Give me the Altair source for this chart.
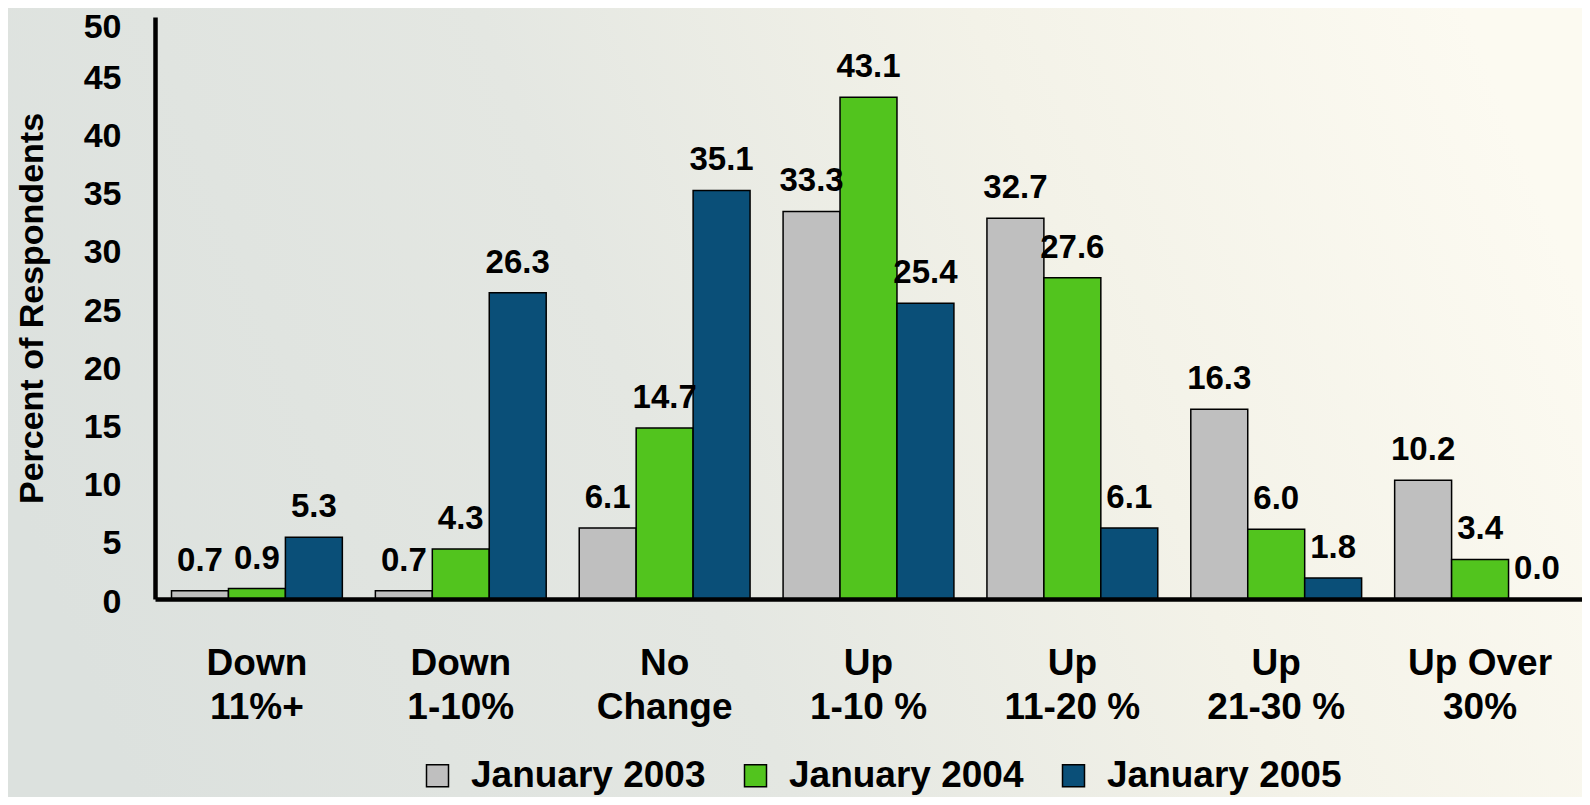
import altair as alt
import pandas as pd

categories = ["Down|11%+", "Down|1-10%", "No|Change", "Up|1-10 %", "Up|11-20 %", "Up|21-30 %", "Up Over|30%"]
series_names = ["January 2003", "January 2004", "January 2005"]
jan_2003 = [0.7, 0.7, 6.1, 33.3, 32.7, 16.3, 10.2]
jan_2004 = [0.9, 4.3, 14.7, 43.1, 27.6, 6.0, 3.4]
jan_2005 = [5.3, 26.3, 35.1, 25.4, 6.1, 1.8, 0.0]
colors = ["#BFBFBF", "#52C41E", "#0A4F78"]

rows = []
for name, vals in zip(series_names, [jan_2003, jan_2004, jan_2005]):
    for c, v in zip(categories, vals):
        rows.append({"category": c, "series": name, "value": v})
df = pd.DataFrame(rows)

W, H = 1427, 582
PL, PT = 147, 9
PB = 789 - PT - H
FONT = "Liberation Sans"

bg = alt.Chart(pd.DataFrame({"a": [0]})).mark_rect(
    fill=alt.LinearGradient(
        gradient="linear",
        x1=0, y1=0.6, x2=1, y2=0.4,
        stops=[
            alt.GradientStop(color="#DCE1DE", offset=0),
            alt.GradientStop(color="#E4E7E2", offset=0.4),
            alt.GradientStop(color="#F3F2E8", offset=0.7),
            alt.GradientStop(color="#FCFAF1", offset=1),
        ],
    )
).encode(
    x=alt.value(-PL), x2=alt.value(W + 10), y=alt.value(-PT), y2=alt.value(H + PB)
)

xenc = alt.X(
    "category:N",
    sort=categories,
    scale=alt.Scale(paddingInner=0.162, paddingOuter=0.081),
    axis=alt.Axis(
        title=None,
        labelExpr="split(datum.label, '|')",
        labelAngle=0,
        labelFont=FONT,
        labelFontWeight="bold",
        labelFontSize=37,
        labelColor="black",
        labelBaseline="top",
        labelLineHeight=44,
        labelPadding=46,
        ticks=False,
        tickSize=0,
        domainColor="black",
        domainWidth=4.5,
        grid=False,
        zindex=2,
    ),
)

bars = alt.Chart(df).mark_bar(stroke="black", strokeWidth=1.5).encode(
    x=xenc,
    xOffset=alt.XOffset("series:N", sort=series_names, scale=alt.Scale(paddingInner=0, paddingOuter=0)),
    y=alt.Y(
        "value:Q",
        scale=alt.Scale(domain=[0, 50], nice=False),
        axis=alt.Axis(
            title="Percent of Respondents",
            titleFont=FONT,
            titleFontWeight="bold",
            titleFontSize=34,
            titleColor="black",
            titleAngle=-90,
            titleBaseline="alphabetic",
            titleAlign="center",
            titleX=-113,
            titleY=H / 2,
            values=list(range(0, 55, 5)),
            labelFont=FONT,
            labelFontWeight="bold",
            labelFontSize=34,
            labelColor="black",
            labelPadding=34,
            labelOffset={"condition": {"test": "datum.value === 50", "value": 10}, "value": 3},
            ticks=False,
            tickSize=0,
            domainColor="black",
            domainWidth=4.5,
            grid=False,
            zindex=2,
        ),
    ),
    color=alt.Color(
        "series:N",
        sort=series_names,
        scale=alt.Scale(domain=series_names, range=colors),
        legend=alt.Legend(
            title=None,
            orient="none",
            direction="horizontal",
            legendX=264,
            legendY=740,
            symbolType="square",
            symbolSize=484,
            symbolStrokeColor="black",
            symbolStrokeWidth=1.5,
            symbolOpacity=1,
            labelFont=FONT,
            labelFontWeight="bold",
            labelFontSize=37,
            labelColor="black",
            labelOffset=15,
            columnPadding=31,
            padding=0,
            labelLimit=400,
        ),
    ),
)

labels = alt.Chart(df).mark_text(
    font=FONT, fontWeight="bold", fontSize=33, color="black", baseline="alphabetic", dy=-20
).encode(
    x=alt.X("category:N", sort=categories),
    xOffset=alt.XOffset("series:N", sort=series_names),
    y="value:Q",
    text=alt.Text("value:Q", format=".1f"),
)

chart = alt.layer(bg, bars, labels).properties(
    width=W,
    height=H,
    padding={"left": PL, "top": PT, "right": 0, "bottom": PB},
    autosize=alt.AutoSizeParams(type="none"),
    background="#E8EAE4",
).configure_view(stroke=None)

chart.save("out.html", embed_options={"renderer": "svg", "actions": False})
